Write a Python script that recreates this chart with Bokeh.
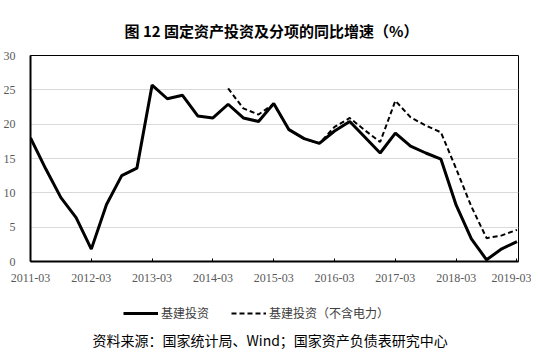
import math
from bokeh.plotting import figure
from bokeh.layouts import column
from bokeh.models import Range1d, FixedTicker, Legend, LegendItem, Label, ColumnDataSource
from bokeh.embed import file_html
from bokeh.resources import INLINE

nan = float("nan")

quarters = ["2011-03", "2011-06", "2011-09", "2011-12",
            "2012-03", "2012-06", "2012-09", "2012-12",
            "2013-03", "2013-06", "2013-09", "2013-12",
            "2014-03", "2014-06", "2014-09", "2014-12",
            "2015-03", "2015-06", "2015-09", "2015-12",
            "2016-03", "2016-06", "2016-09", "2016-12",
            "2017-03", "2017-06", "2017-09", "2017-12",
            "2018-03", "2018-06", "2018-09", "2018-12",
            "2019-03"]

infra = [18.0, 13.5, 9.3, 6.4,
         1.8, 8.3, 12.5, 13.6,
         25.7, 23.7, 24.2, 21.2,
         20.9, 22.9, 20.9, 20.4,
         23.0, 19.2, 17.9, 17.2,
         19.0, 20.4, 18.1, 15.8,
         18.7, 16.8, 15.8, 14.9,
         8.2, 3.3, 0.25, 1.85,
         2.9]

infra_ex_power = [nan, nan, nan, nan,
                  nan, nan, nan, nan,
                  nan, nan, nan, nan,
                  nan, 25.2, 22.3, 21.4,
                  22.95, 19.2, 17.9, 17.2,
                  19.6, 20.9, 19.1, 17.4,
                  23.4, 21.0, 19.8, 18.8,
                  13.5, 8.0, 3.4, 3.8,
                  4.6]

tick_labels = ["2011-03", "2012-03", "2013-03", "2014-03", "2015-03",
               "2016-03", "2017-03", "2018-03", "2019-03"]

series_names = ["基建投资", "基建投资（不含电力）"]
title_text = "图 12 固定资产投资及分项的同比增速（%）"
source_text = "资料来源：国家统计局、Wind；国家资产负债表研究中心"

SOLID = dict(line_color="black", line_width=3)
DASHED = dict(line_color="black", line_width=2, line_dash="5 3")


def blank_fig(h):
    f = figure(frame_width=522, frame_height=h, output_backend="svg", toolbar_location=None,
               x_range=Range1d(0, 1), y_range=Range1d(0, 1),
               x_axis_type=None, y_axis_type=None,
               min_border_left=0, min_border_right=0, min_border_top=0, min_border_bottom=0)
    f.grid.visible = False
    f.outline_line_color = None
    return f


# --- title strip ---
p0 = blank_fig(47)
p0.add_layout(Label(x=94, y=17, x_units="screen", y_units="screen", text=title_text,
                    text_align="left", text_baseline="middle",
                    text_font="Noto Sans CJK SC", text_font_style="bold",
                    text_font_size="15px", text_color="black"))

# --- main chart ---
idx = list(range(len(quarters)))
src = ColumnDataSource(dict(x=idx, a=infra, b=infra_ex_power))

p = figure(frame_width=488, frame_height=206, output_backend="svg", toolbar_location=None,
           x_range=Range1d(0, 32.1), y_range=Range1d(0, 30),
           min_border_left=21, min_border_right=13, min_border_top=8,
           min_border_bottom=27)

r1 = p.line("x", "a", source=src, **SOLID)
r2 = p.line("x", "b", source=src, **DASHED)

tick_pos = [quarters.index(t) for t in tick_labels]
p.xaxis.ticker = FixedTicker(ticks=tick_pos)
p.xaxis.major_label_overrides = {tp: lab for tp, lab in zip(tick_pos, tick_labels)}
p.xaxis.minor_tick_line_color = None
p.xaxis.major_tick_in = 3
p.xaxis.major_tick_out = 0
p.xaxis.major_tick_line_color = "black"
p.xaxis.major_tick_line_width = 1
p.xaxis.axis_line_width = 2
p.xaxis.axis_line_color = "black"
p.xaxis.major_label_standoff = 12

p.yaxis.ticker = FixedTicker(ticks=[0, 5, 10, 15, 20, 25, 30])
p.yaxis.minor_tick_line_color = None
p.yaxis.major_tick_line_color = None
p.yaxis.axis_line_width = 2
p.yaxis.axis_line_color = "black"
p.yaxis.major_label_standoff = 9

for ax in (p.xaxis, p.yaxis):
    ax.major_label_text_font = "Liberation Serif"
    ax.major_label_text_font_size = "12px"
    ax.major_label_text_color = "#595959"

p.xgrid.grid_line_color = None
p.ygrid.grid_line_color = "#d9d9d9"
p.ygrid.grid_line_width = 1
p.outline_line_color = "black"
p.outline_line_width = 1
p.outline_line_alpha = 1

# --- legend + source strip ---
p2 = blank_fig(64)
offscreen = ColumnDataSource(dict(x=[-5, -4], y=[-5, -5]))
l1 = p2.line("x", "y", source=offscreen, **SOLID)
l2 = p2.line("x", "y", source=offscreen, **DASHED)
legend = Legend(items=[LegendItem(label=series_names[0], renderers=[l1]),
                       LegendItem(label=series_names[1], renderers=[l2])],
                orientation="horizontal", location=(123, 31))
legend.label_text_font = "Noto Sans CJK SC"
legend.label_text_font_size = "12px"
legend.label_text_color = "#404040"
legend.glyph_width = 35
legend.glyph_height = 16
legend.label_height = 16
legend.label_standoff = 3
legend.spacing = 22
legend.border_line_color = None
legend.background_fill_alpha = 0
legend.padding = 0
legend.margin = 0
p2.add_layout(legend, "center")
p2.add_layout(Label(x=62, y=13, x_units="screen", y_units="screen", text=source_text,
                    text_align="left", text_baseline="middle",
                    text_font="Noto Sans CJK SC", text_font_size="14px", text_color="black"))

layout = column(p0, p, p2, spacing=0)
open("out.html", "w").write(file_html(layout, INLINE))
